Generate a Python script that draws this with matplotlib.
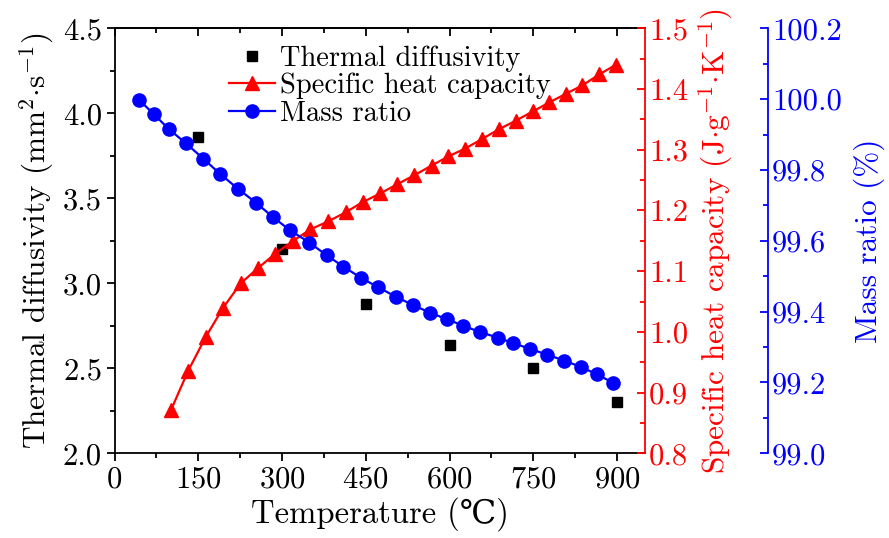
import numpy as np
import matplotlib
matplotlib.use("Agg")
import matplotlib.pyplot as plt
from matplotlib.ticker import MultipleLocator, FormatStrFormatter
from matplotlib.lines import Line2D

plt.rcParams['font.family'] = ['cmr10', 'DejaVu Serif']
plt.rcParams['mathtext.fontset'] = 'cm'
plt.rcParams['axes.formatter.use_mathtext'] = True
plt.rcParams['axes.unicode_minus'] = False

# --- data ---
td_temp = [150, 300, 450, 600, 750, 900]
td_value = [3.86, 3.20, 2.88, 2.64, 2.50, 2.30]

cp_temp = [101, 132, 163, 194, 226, 257, 288, 320, 351, 383, 414, 445, 476,
           506, 537, 568, 598, 628, 659, 689, 719, 749, 779, 808, 838, 868, 898]
cp_value = [0.871, 0.936, 0.991, 1.039, 1.080, 1.105, 1.129, 1.150, 1.169,
            1.182, 1.197, 1.214, 1.228, 1.243, 1.258, 1.274, 1.289, 1.302,
            1.318, 1.334, 1.348, 1.363, 1.378, 1.392, 1.406, 1.424, 1.440]

mass_temp = [44, 70, 97, 128, 159, 189, 221, 253, 283, 314, 349, 380, 410,
             441, 472, 504, 534, 565, 595, 625, 655, 686, 714, 744, 774, 805,
             835, 864, 893]
mass_value = [99.998, 99.958, 99.916, 99.875, 99.832, 99.789, 99.747, 99.708,
              99.668, 99.630, 99.595, 99.559, 99.527, 99.496, 99.469, 99.442,
              99.419, 99.397, 99.379, 99.360, 99.342, 99.327, 99.311, 99.295,
              99.279, 99.262, 99.244, 99.223, 99.199]

tick_fs = 22
label_fs = 22.5
red = '#ff0000'
blue = '#0000ff'

fig = plt.figure(figsize=(8.89, 5.38), dpi=100)
ax = fig.add_axes([0.1288, 0.1574, 0.5967, 0.790])
ax2 = ax.twinx()
ax3 = ax.twinx()
ax3.spines['right'].set_position(('axes', 1 + 123 / 530.5))

ax.plot(td_temp, td_value, 's', color='black', markersize=7.5, zorder=3)
ax2.plot(cp_temp, cp_value, '-^', color=red, lw=1.6, markersize=10, zorder=3)
ax3.plot(mass_temp, mass_value, '-o', color=blue, lw=1.6, markersize=9.5, zorder=3)

ax.set_xlim(0, 950)
ax.set_ylim(2.0, 4.5)
ax2.set_ylim(0.8, 1.5)
ax3.set_ylim(99.0, 100.2)

ax.xaxis.set_major_locator(MultipleLocator(150))
ax.xaxis.set_minor_locator(MultipleLocator(75))
ax.yaxis.set_major_locator(MultipleLocator(0.5))
ax.yaxis.set_minor_locator(MultipleLocator(0.25))
ax2.yaxis.set_major_locator(MultipleLocator(0.1))
ax2.yaxis.set_minor_locator(MultipleLocator(0.05))
ax3.yaxis.set_major_locator(MultipleLocator(0.2))
ax3.yaxis.set_minor_locator(MultipleLocator(0.1))
for a in (ax, ax2, ax3):
    a.yaxis.set_major_formatter(FormatStrFormatter('%.1f'))

ax.tick_params(axis='both', which='major', direction='out', length=6, width=1.3,
               labelsize=tick_fs, pad=3)
ax.tick_params(axis='both', which='minor', direction='out', length=3.5, width=1.3)
ax.tick_params(axis='y', right=False)

# top ticks pointing inward
top = ax.secondary_xaxis('top')
top.xaxis.set_major_locator(MultipleLocator(150))
top.xaxis.set_minor_locator(MultipleLocator(75))
top.tick_params(which='major', direction='in', length=6, width=1.3, labeltop=False)
top.tick_params(which='minor', direction='in', length=3.5, width=1.3)
top.spines['top'].set_linewidth(1.3)

for a, c in [(ax2, red), (ax3, blue)]:
    a.tick_params(axis='y', which='major', direction='in', length=6, width=1.3,
                  colors=c, labelsize=tick_fs, pad=3)
    a.tick_params(axis='y', which='minor', direction='in', length=3.5, width=1.3,
                  colors=c)
    a.spines['right'].set_color(c)
    a.spines['right'].set_linewidth(1.3)
    for s in ['left', 'top', 'bottom']:
        a.spines[s].set_visible(False)

for s in ['left', 'bottom', 'top']:
    ax.spines[s].set_linewidth(1.3)
ax.spines['right'].set_visible(False)

ax.set_xlabel('Temperature (\u2103)', fontsize=23.5, labelpad=3)
ax.set_ylabel(r'Thermal diffusivity (mm$^2$$\cdot$s$^{-1}$)', fontsize=label_fs, labelpad=5)
ax2.set_ylabel(r'Specific heat capacity (J$\cdot$g$^{-1}$$\cdot$K$^{-1}$)',
               fontsize=label_fs, color=red, labelpad=6)
ax3.set_ylabel('Mass ratio (%)', fontsize=label_fs, color=blue, labelpad=8)

handles = [
    Line2D([], [], ls='none', marker='s', color='black', markersize=7.5),
    Line2D([], [], ls='-', marker='^', color=red, lw=1.6, markersize=10),
    Line2D([], [], ls='-', marker='o', color=blue, lw=1.6, markersize=9.5),
]
labels = ['Thermal diffusivity', 'Specific heat capacity', 'Mass ratio']
ax3.legend(handles, labels, loc='upper left', bbox_to_anchor=(229 / 889, 1 - 45 / 538),
           bbox_transform=fig.transFigure, frameon=False, fontsize=20.5,
           handlelength=1.6, handletextpad=0.2, labelspacing=0.05, borderpad=0,
           borderaxespad=0)

fig.savefig('out.png', dpi=100)
